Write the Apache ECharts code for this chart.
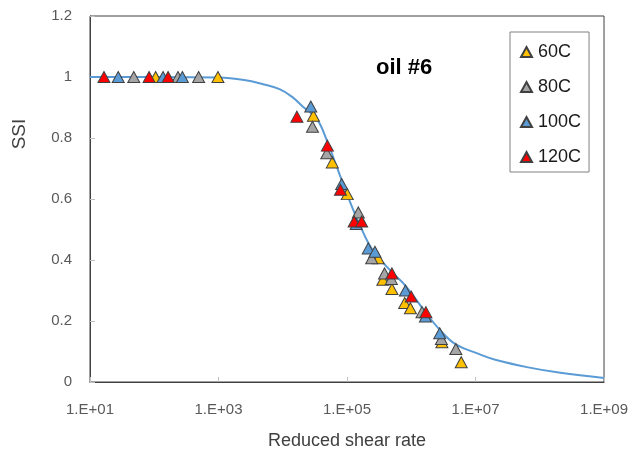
<!DOCTYPE html>
<html>
<head>
<meta charset="utf-8">
<script src="https://cdn.jsdelivr.net/npm/echarts@6/dist/echarts.min.js"></script>
<style>
html,body{margin:0;padding:0;background:#fff;}
#chart{width:631px;height:459px;}
</style>
</head>
<body>
<div id="chart"></div>
<script>
// Data (reduced shear rate, SSI)
const rate60 = [105, 980, 3.0e4, 5.9e4, 1.01e5, 3.05e5, 3.61e5, 5.0e5, 7.9e5, 9.7e5, 3.0e6, 6.0e6];
const ssi60  = [1.0, 1.0, 0.873, 0.72, 0.616, 0.406, 0.335, 0.305, 0.259, 0.242, 0.13, 0.065];

const rate80 = [48, 234, 490, 2.9e4, 4.84e4, 1.5e5, 2.42e5, 3.84e5, 4.9e5, 1.47e6, 2.94e6, 4.94e6];
const ssi80  = [1.0, 1.0, 1.0, 0.837, 0.75, 0.556, 0.406, 0.356, 0.338, 0.229, 0.141, 0.108];

const rate100 = [27.5, 137, 274, 2.73e4, 8.26e4, 1.39e5, 2.14e5, 2.72e5, 8.1e5, 1.66e6, 2.77e6];
const ssi100  = [1.0, 1.0, 1.0, 0.903, 0.649, 0.518, 0.438, 0.427, 0.30, 0.215, 0.16];

const rate120 = [16.5, 83, 164, 1.66e4, 4.95e4, 7.9e4, 1.29e5, 1.69e5, 5.0e5, 1.0e6, 1.69e6];
const ssi120  = [1.0, 1.0, 1.0, 0.87, 0.775, 0.63, 0.526, 0.526, 0.356, 0.28, 0.229];

const curveRate = [10, 100, 1000, 2500, 4800, 8900, 1.4e4, 2.0e4, 3.4e4, 4.9e4, 6.8e4, 1.07e5, 1.62e5, 2.45e5, 5.0e5, 8.1e5, 1.66e6, 2.7e6, 4.8e6, 1.12e7, 2.1e7, 6.6e7, 2.1e8, 1e9];
const curveSSI  = [1.0, 1.0, 0.998, 0.99, 0.977, 0.96, 0.935, 0.905, 0.862, 0.79, 0.71, 0.60, 0.51, 0.436, 0.36, 0.316, 0.229, 0.174, 0.125, 0.092, 0.072, 0.048, 0.03, 0.013];

const seriesNames = ['60C', '80C', '100C', '120C'];
const seriesColors = ['#FFC000', '#A5A5A5', '#5B9BD5', '#FF0000'];
const yTicks = [0, 0.2, 0.4, 0.6, 0.8, 1, 1.2];

const zip = (a, b) => a.map((v, i) => [v, b[i]]);
const pointSets = [zip(rate60, ssi60), zip(rate80, ssi80), zip(rate100, ssi100), zip(rate120, ssi120)];

const FONT = 'Liberation Sans';
const chart = echarts.init(document.getElementById('chart'), null, {renderer: 'canvas'});

const scatterSeries = seriesNames.map((name, i) => ({
  name: name,
  type: 'scatter',
  data: pointSets[i],
  symbol: 'triangle',
  symbolSize: [12, 11],
  itemStyle: {color: seriesColors[i], borderColor: '#404040', borderWidth: 1, opacity: 1},
  emphasis: {disabled: true},
  z: 3 + i
}));

chart.setOption({
  animation: false,
  backgroundColor: '#ffffff',
  textStyle: {fontFamily: FONT},
  title: {
    text: 'oil #6',
    left: 376, top: 57, padding: 0,
    textStyle: {fontFamily: FONT, fontSize: 22, fontWeight: 'bold', color: '#000'}
  },
  legend: {
    data: seriesNames,
    orient: 'vertical',
    left: 510, top: 32,
    padding: [10, 8, 5, 10],
    itemWidth: 11, itemHeight: 10,
    itemGap: 15,
    backgroundColor: '#fff',
    borderColor: '#808080', borderWidth: 1,
    textStyle: {fontFamily: FONT, fontSize: 18, lineHeight: 20, color: '#1a1a1a', padding: [0, 0, 0, 1]}
  },
  grid: {
    left: 90, top: 16, right: 25, bottom: 77,
    show: true, borderColor: '#404040', borderWidth: 1,
    containLabel: false
  },
  graphic: [{
    type: 'text',
    x: 20, y: 134,
    rotation: Math.PI / 2,
    style: {text: 'SSI', fontFamily: FONT, fontSize: 19, fill: '#404040', align: 'center', verticalAlign: 'middle'}
  }],
  xAxis: {
    type: 'log', logBase: 10,
    min: 10, max: 1e9,
    interval: 2,
    name: 'Reduced shear rate',
    nameLocation: 'middle', nameGap: 50,
    nameTextStyle: {fontFamily: FONT, fontSize: 18, color: '#404040'},
    axisLine: {show: true, lineStyle: {color: '#404040', width: 1}},
    axisTick: {show: true, inside: true, length: 5, lineStyle: {color: '#bfbfbf'}},
    minorTick: {show: false},
    splitLine: {show: false},
    axisLabel: {
      fontFamily: FONT, fontSize: 15, color: '#595959', margin: 20,
      formatter: v => {
        const e = Math.round(Math.log10(v));
        return '1.E+' + String(e).padStart(2, '0');
      }
    }
  },
  yAxis: {
    type: 'value',
    min: yTicks[0], max: yTicks[yTicks.length - 1], interval: 0.2,
    axisLine: {show: true, lineStyle: {color: '#404040', width: 1}},
    axisTick: {show: true, inside: true, length: 5, lineStyle: {color: '#bfbfbf'}},
    splitLine: {show: false},
    axisLabel: {fontFamily: FONT, fontSize: 15, color: '#595959', margin: 18}
  },
  series: [{
    name: 'fit',
    type: 'line',
    data: zip(curveRate, curveSSI),
    smooth: 0.4,
    showSymbol: false,
    symbol: 'none',
    lineStyle: {color: '#5B9BD5', width: 2},
    emphasis: {disabled: true},
    z: 2
  }].concat(scatterSeries)
});
</script>
</body>
</html>
